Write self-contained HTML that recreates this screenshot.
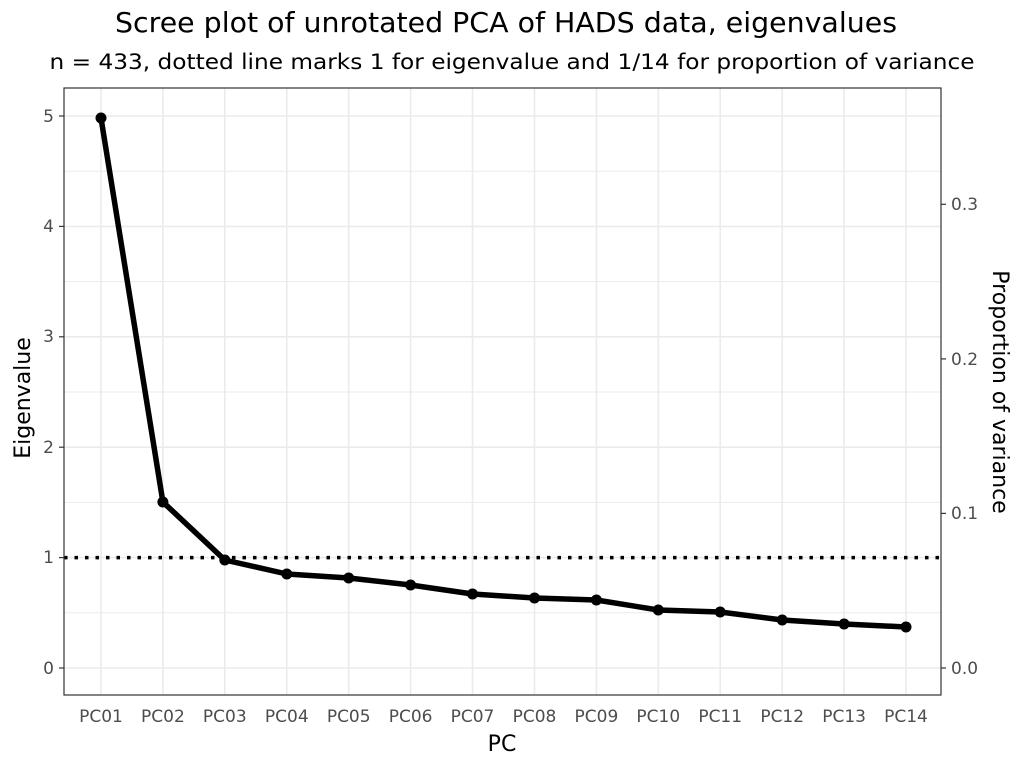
<!DOCTYPE html>
<html><head><meta charset="utf-8"><style>body{margin:0;background:#fff}</style></head><body>
<svg width="1024" height="768" xmlns="http://www.w3.org/2000/svg" font-family="'DejaVu Sans','Liberation Sans',sans-serif">
<rect width="1024" height="768" fill="#fff"/>
<text x="506" y="32" font-size="27.5" text-anchor="middle" fill="#000" textLength="782" lengthAdjust="spacingAndGlyphs">Scree plot of unrotated PCA of HADS data, eigenvalues</text>
<text x="512" y="69" font-size="21" text-anchor="middle" fill="#000" textLength="925" lengthAdjust="spacingAndGlyphs">n = 433, dotted line marks 1 for eigenvalue and 1/14 for proportion of variance</text>
<g stroke="#ebebeb" stroke-width="1">
<line x1="64" x2="941" y1="612.8" y2="612.8"/><line x1="64" x2="941" y1="502.4" y2="502.4"/><line x1="64" x2="941" y1="392" y2="392"/><line x1="64" x2="941" y1="281.6" y2="281.6"/><line x1="64" x2="941" y1="171.2" y2="171.2"/>
</g>
<g stroke="#ebebeb" stroke-width="1.6">
<line x1="64" x2="941" y1="668" y2="668"/><line x1="64" x2="941" y1="557.6" y2="557.6"/><line x1="64" x2="941" y1="447.2" y2="447.2"/><line x1="64" x2="941" y1="336.8" y2="336.8"/><line x1="64" x2="941" y1="226.4" y2="226.4"/><line x1="64" x2="941" y1="116" y2="116"/>
<line x1="101" x2="101" y1="88" y2="695"/><line x1="162.9" x2="162.9" y1="88" y2="695"/><line x1="224.8" x2="224.8" y1="88" y2="695"/><line x1="286.8" x2="286.8" y1="88" y2="695"/><line x1="348.7" x2="348.7" y1="88" y2="695"/><line x1="410.6" x2="410.6" y1="88" y2="695"/><line x1="472.5" x2="472.5" y1="88" y2="695"/><line x1="534.5" x2="534.5" y1="88" y2="695"/><line x1="596.4" x2="596.4" y1="88" y2="695"/><line x1="658.3" x2="658.3" y1="88" y2="695"/><line x1="720.2" x2="720.2" y1="88" y2="695"/><line x1="782.2" x2="782.2" y1="88" y2="695"/><line x1="844.1" x2="844.1" y1="88" y2="695"/><line x1="906" x2="906" y1="88" y2="695"/>
</g>
<line x1="64" x2="941" y1="557.6" y2="557.6" stroke="#000" stroke-width="3.5" stroke-dasharray="3.5,7"/>
<polyline fill="none" stroke="#000" stroke-width="5.5" stroke-linejoin="round" points="101,118 162.9,502 224.8,560 286.8,574 348.7,578 410.6,585 472.5,594 534.5,598 596.4,600 658.3,610 720.2,612 782.2,620 844.1,624 906,627"/>
<g fill="#000">
<circle cx="101" cy="118" r="5.5"/><circle cx="162.9" cy="502" r="5.5"/><circle cx="224.8" cy="560" r="5.5"/><circle cx="286.8" cy="574" r="5.5"/><circle cx="348.7" cy="578" r="5.5"/><circle cx="410.6" cy="585" r="5.5"/><circle cx="472.5" cy="594" r="5.5"/><circle cx="534.5" cy="598" r="5.5"/><circle cx="596.4" cy="600" r="5.5"/><circle cx="658.3" cy="610" r="5.5"/><circle cx="720.2" cy="612" r="5.5"/><circle cx="782.2" cy="620" r="5.5"/><circle cx="844.1" cy="624" r="5.5"/><circle cx="906" cy="627" r="5.5"/>
</g>
<rect x="64" y="88" width="877" height="607" fill="none" stroke="#333" stroke-width="1.2"/>
<g stroke="#333" stroke-width="1.2">
<line x1="59" x2="64" y1="668" y2="668"/><line x1="59" x2="64" y1="557.6" y2="557.6"/><line x1="59" x2="64" y1="447.2" y2="447.2"/><line x1="59" x2="64" y1="336.8" y2="336.8"/><line x1="59" x2="64" y1="226.4" y2="226.4"/><line x1="59" x2="64" y1="116" y2="116"/>
<line x1="941" x2="946" y1="668" y2="668"/><line x1="941" x2="946" y1="513.4" y2="513.4"/><line x1="941" x2="946" y1="358.9" y2="358.9"/><line x1="941" x2="946" y1="204.3" y2="204.3"/>
</g>
<g font-size="17" fill="#4d4d4d" text-anchor="end">
<text x="54" y="674">0</text><text x="54" y="563">1</text><text x="54" y="453">2</text><text x="54" y="342">3</text><text x="54" y="232">4</text><text x="54" y="122">5</text>
</g>
<g font-size="17" fill="#4d4d4d">
<text x="951" y="674">0.0</text><text x="951" y="519">0.1</text><text x="951" y="365">0.2</text><text x="951" y="210">0.3</text>
</g>
<g font-size="17" fill="#4d4d4d" text-anchor="middle">
<text x="101" y="722">PC01</text><text x="162.9" y="722">PC02</text><text x="224.8" y="722">PC03</text><text x="286.8" y="722">PC04</text><text x="348.7" y="722">PC05</text><text x="410.6" y="722">PC06</text><text x="472.5" y="722">PC07</text><text x="534.5" y="722">PC08</text><text x="596.4" y="722">PC09</text><text x="658.3" y="722">PC10</text><text x="720.2" y="722">PC11</text><text x="782.2" y="722">PC12</text><text x="844.1" y="722">PC13</text><text x="906" y="722">PC14</text>
</g>
<text x="502" y="751" font-size="22" text-anchor="middle">PC</text>
<text transform="translate(30,398) rotate(-90)" font-size="22" text-anchor="middle">Eigenvalue</text>
<text transform="translate(993,392) rotate(90)" font-size="22" text-anchor="middle">Proportion of variance</text>
</svg>
</body></html>
